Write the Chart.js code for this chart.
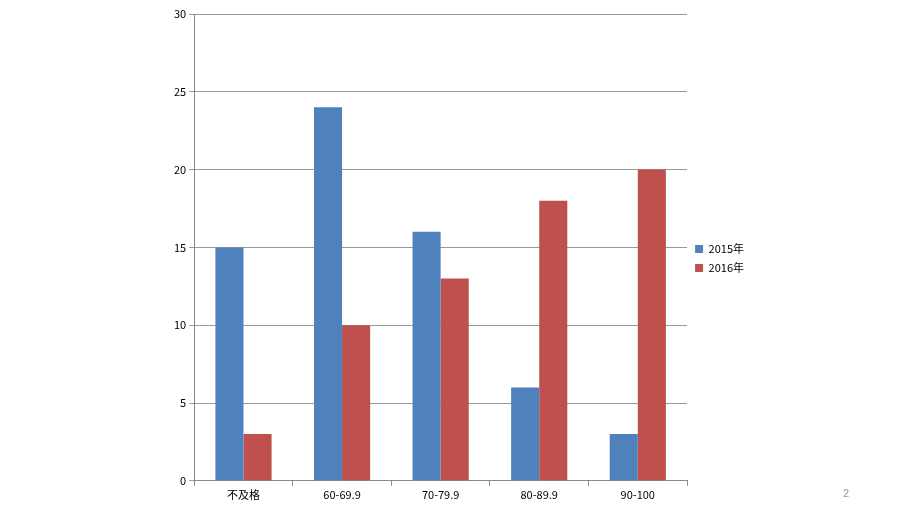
<!DOCTYPE html>
<html>
<head>
<meta charset="utf-8">
<script src="https://cdn.jsdelivr.net/npm/chart.js@4"></script>
<style>
  body { margin: 0; background: #fff; }
  #wrap { position: relative; width: 920px; height: 517px; }
  #page { position: absolute; left: 843px; top: 487px; font: 11px "Liberation Sans", sans-serif; color: #999; }
</style>
</head>
<body>
<div id="wrap">
  <canvas id="scoreChart" width="920" height="517"></canvas>
  <div id="page">2</div>
</div>
<script>
// 成绩分布
const categories = ["不及格", "60-69.9", "70-79.9", "80-89.9", "90-100"];
const values2015 = [15, 24, 16, 6, 3];
const values2016 = [3, 10, 13, 18, 20];
const seriesNames = ["2015年", "2016年"];

const ctx = document.getElementById("scoreChart").getContext("2d");
Chart.defaults.font.family = "'Noto Sans CJK SC', 'Liberation Sans', sans-serif";
Chart.defaults.font.size = 11;
Chart.defaults.color = "#000";

const scoreChart = new Chart(ctx, {
    type: "bar",
    data: {
        labels: categories,
        datasets: [
            { label: seriesNames[0], data: values2015, backgroundColor: "#4F81BD" },
            { label: seriesNames[1], data: values2016, backgroundColor: "#C0504D" }
        ]
    },
    options: {
        responsive: false,
        animation: false,
        categoryPercentage: 0.57,
        barPercentage: 1,
        layout: { padding: { left: 171, top: 14, right: 166, bottom: 14 } },
        plugins: {
            legend: {
                position: "right",
                labels: { boxWidth: 8, boxHeight: 8, padding: 8 }
            },
            tooltip: { enabled: false }
        },
        scales: {
            x: {
                grid: { drawOnChartArea: false, color: "#888", tickLength: 5 },
                border: { color: "#888" },
                ticks: { padding: 2 }
            },
            y: {
                min: 0,
                max: 30,
                ticks: { stepSize: 5, padding: 3 },
                grid: { color: "#999", tickLength: 5 },
                border: { color: "#888" }
            }
        }
    }
});
</script>
</body>
</html>
